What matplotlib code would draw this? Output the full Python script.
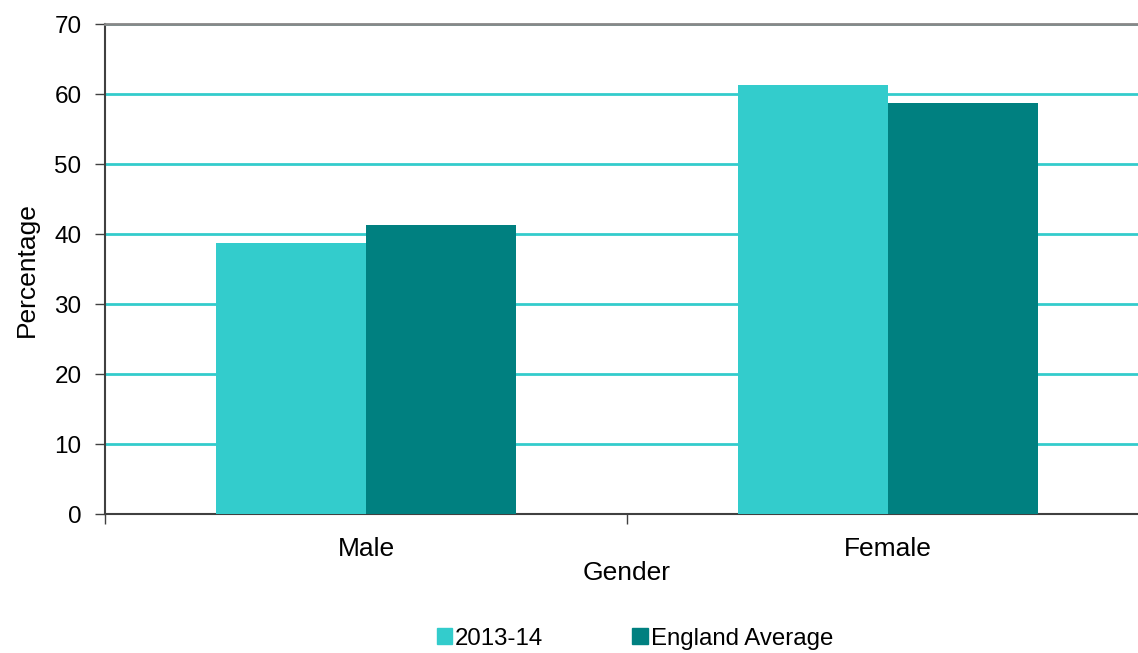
import numpy as np
import matplotlib.pyplot as plt
from matplotlib.patches import Patch

# Share of each gender, local figure against the England average
genders = ['Male', 'Female']
local_2013_14 = [38.8, 61.4]
england_avg = [41.4, 58.8]
series_names = ['2013-14', 'England Average']
y_ticks = [0, 10, 20, 30, 40, 50, 60, 70]

light_teal = '#33CCCC'
dark_teal = '#008080'

plt.rcParams['font.family'] = ['Liberation Sans', 'DejaVu Sans']

fig = plt.figure(figsize=(11.38, 6.53), dpi=100)
ax = fig.add_axes([0.0923, 0.2121, 0.9174, 0.7504])

x = np.arange(len(genders))
width = 0.2874
ax.bar(x - width / 2, local_2013_14, width, color=light_teal, zorder=3)
ax.bar(x + width / 2, england_avg, width, color=dark_teal, zorder=3)

ax.set_ylim(0, 70)
ax.set_xlim(-0.5, len(genders) - 0.5)
ax.set_yticks(y_ticks)
ax.yaxis.grid(True, color=light_teal, linewidth=2, zorder=1)
ax.set_axisbelow(True)

# category boundaries carry the ticks, names sit in between
ax.set_xticks(np.arange(-0.5, len(genders), 1.0))
ax.set_xticklabels([])
ax.set_xticks(x, minor=True)
ax.set_xticklabels(genders, minor=True)
ax.tick_params(axis='x', which='minor', length=0, pad=16, labelsize=19)
ax.tick_params(axis='x', which='major', length=7, width=1, color='#404040')
ax.tick_params(axis='y', length=7, width=1, color='#404040', labelsize=17.5, pad=10)

ax.spines['right'].set_visible(False)
ax.spines['top'].set_color('#888888')
ax.spines['top'].set_linewidth(2)
ax.spines['left'].set_color('#404040')
ax.spines['left'].set_linewidth(1.5)
ax.spines['bottom'].set_color('#404040')
ax.spines['bottom'].set_linewidth(1.5)

ax.set_ylabel('Percentage', fontsize=19, labelpad=11)
ax.set_xlabel('Gender', fontsize=19, labelpad=0)

handles = [Patch(color=light_teal), Patch(color=dark_teal)]
fig.legend(handles, series_names, loc='center', bbox_to_anchor=(0.558, 0.022),
           ncol=2, frameon=False, fontsize=17.3, handlelength=0.63, handleheight=0.63,
           handletextpad=0.13, columnspacing=3.7)

fig.savefig('out.png', dpi=100)
